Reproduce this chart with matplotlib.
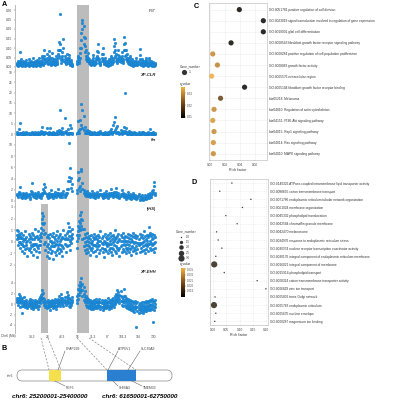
import numpy as np
import matplotlib
matplotlib.use("Agg")
import matplotlib.pyplot as plt
from matplotlib.colors import LinearSegmentedColormap, Normalize
from matplotlib.cm import ScalarMappable
from matplotlib.patches import FancyBboxPatch, Rectangle

plt.rcParams['font.family'] = ['Liberation Sans', 'DejaVu Sans']

W, H = 395, 400

# ---------------- panel A data (1 Mb windows on chr6) ----------------
win_mb = list(range(0, 53)) + list(range(57, 132))

fst_a = [0.02, 0.03, 0.015, 0.08, 0.04, 0.02, 0.03, 0.01, 0.025, 0.035,
         0.02, 0.04, 0.015, 0.03, 0.02, 0.045, 0.01, 0.03, 0.02, 0.035,
         0.015, 0.05, 0.025, 0.03, 0.06, 0.02, 0.09, 0.04, 0.07, 0.03,
         0.085, 0.05, 0.02, 0.075, 0.03, 0.04, 0.02, 0.06, 0.03, 0.09,
         0.13, 0.28, 0.05, 0.08, 0.15, 0.06, 0.03, 0.07, 0.04, 0.065,
         0.02, 0.035, 0.015,
         0.03, 0.06, 0.04, 0.1, 0.18, 0.25, 0.215, 0.155, 0.09, 0.06,
         0.075, 0.04, 0.03, 0.02, 0.035, 0.065, 0.02, 0.03, 0.05, 0.085,
         0.12, 0.04, 0.02, 0.07, 0.1, 0.03, 0.045, 0.02, 0.03, 0.015,
         0.04, 0.025, 0.06, 0.03, 0.05, 0.147, 0.126, 0.07, 0.04, 0.09,
         0.06, 0.05, 0.08, 0.04, 0.158, 0.126, 0.09, 0.07, 0.05, 0.03,
         0.06, 0.02, 0.04, 0.015, 0.03, 0.02, 0.045, 0.025, 0.03, 0.095,
         0.02, 0.04, 0.015, 0.03, 0.02, 0.05, 0.025, 0.015, 0.047, 0.02,
         0.03, 0.01, 0.025, 0.015, 0.02]
fst_b = [0.01, 0.005, 0.02, 0.01, 0.015, 0.005, 0.01, 0.02, 0.005, 0.01,
         0.015, 0.005, 0.01, 0.02, 0.01, 0.005, 0.015, 0.01, 0.005, 0.02,
         0.01, 0.02, 0.005, 0.015, 0.03, 0.01, 0.04, 0.02, 0.03, 0.015,
         0.04, 0.02, 0.01, 0.03, 0.015, 0.02, 0.01, 0.025, 0.015, 0.05,
         0.06, 0.09, 0.02, 0.04, 0.03, 0.025, 0.015, 0.035, 0.02, 0.03,
         0.01, 0.015, 0.005,
         0.015, 0.03, 0.02, 0.05, 0.1, 0.23, 0.12, 0.08, 0.04, 0.03,
         0.03, 0.02, 0.015, 0.01, 0.02, 0.03, 0.01, 0.015, 0.02, 0.04,
         0.05, 0.02, 0.01, 0.03, 0.04, 0.015, 0.02, 0.01, 0.015, 0.005,
         0.02, 0.01, 0.03, 0.015, 0.025, 0.08, 0.06, 0.03, 0.02, 0.04,
         0.03, 0.025, 0.04, 0.02, 0.09, 0.06, 0.04, 0.03, 0.02, 0.015,
         0.03, 0.01, 0.02, 0.005, 0.015, 0.01, 0.02, 0.01, 0.015, 0.04,
         0.01, 0.02, 0.005, 0.015, 0.01, 0.025, 0.01, 0.005, 0.02, 0.01,
         0.015, 0.005, 0.01, 0.005, 0.01]
fst_c = [0.015, 0.02, 0.01, 0.03, 0.025, 0.01, 0.02, 0.015, 0.015, 0.02,
         0.01, 0.025, 0.02, 0.01, 0.015, 0.025, 0.02, 0.02, 0.01, 0.025,
         0.02, 0.03, 0.015, 0.02, 0.045, 0.015, 0.06, 0.03, 0.05, 0.02,
         0.06, 0.035, 0.015, 0.05, 0.02, 0.03, 0.015, 0.04, 0.02, 0.07,
         0.09, 0.12, 0.035, 0.06, 0.1, 0.04, 0.02, 0.05, 0.03, 0.045,
         0.015, 0.025, 0.01,
         0.02, 0.045, 0.03, 0.075, 0.14, 0.2, 0.16, 0.11, 0.06, 0.045,
         0.05, 0.03, 0.02, 0.015, 0.025, 0.045, 0.015, 0.02, 0.035, 0.06,
         0.08, 0.03, 0.015, 0.05, 0.07, 0.02, 0.03, 0.015, 0.02, 0.01,
         0.03, 0.015, 0.045, 0.02, 0.035, 0.11, 0.09, 0.05, 0.03, 0.065,
         0.045, 0.035, 0.06, 0.03, 0.12, 0.09, 0.065, 0.05, 0.035, 0.02,
         0.045, 0.015, 0.03, 0.01, 0.02, 0.015, 0.03, 0.015, 0.02, 0.065,
         0.015, 0.03, 0.01, 0.02, 0.015, 0.035, 0.02, 0.01, 0.035, 0.015,
         0.02, 0.008, 0.018, 0.01, 0.015]

xpclr_a = [0.8, 0.4, 2.4, 5.3, 0.6, 0.3, 0.9, 0.2, 0.5, 1.1,
           0.3, 0.7, 0.2, 0.6, 1.2, 0.4, 0.3, 0.8, 0.2, 0.5,
           1.0, 0.3, 0.6, 1.4, 3.4, 0.8, 0.4, 1.2, 2.9, 0.5,
           0.9, 2.9, 0.6, 0.3, 1.1, 0.4, 0.7, 0.2, 1.5, 0.6,
           2.0, 11.6, 1.3, 3.0, 0.8, 7.8, 1.5, 0.4, 2.2, 0.7,
           4.4, 3.0, 0.5,
           0.6, 6.3, 1.8, 6.8, 14.5, 11.6, 8.7, 3.5, 1.2, 2.0,
           0.8, 1.5, 0.4, 0.9, 0.3, 0.7, 1.2, 0.4, 0.6, 0.2,
           0.9, 0.5, 1.3, 0.3, 0.7, 0.4, 1.0, 0.2, 0.6, 0.8,
           0.3, 1.5, 2.5, 1.0, 4.4, 5.8, 8.2, 3.0, 4.0, 1.2,
           0.6, 2.0, 0.8, 1.5, 3.5, 20.0, 2.8, 1.0, 0.5, 1.3,
           0.4, 0.9, 0.3, 0.7, 1.1, 0.4, 0.6, 0.2, 0.9, 0.5,
           0.3, 0.8, 1.2, 0.4, 0.6, 0.2, 0.5, 0.9, 0.3, 2.4,
           0.6, 0.4, 0.8, 0.3, 0.5]
xpclr_b = [0.1, 0.0, 0.2, 0.5, 0.1, 0.0, 0.2, 0.1, 0.0, 0.3,
           0.1, 0.2, 0.0, 0.1, 0.3, 0.0, 0.1, 0.2, 0.0, 0.1,
           0.2, 0.0, 0.1, 0.3, 0.6, 0.2, 0.1, 0.3, 0.5, 0.0,
           0.2, 0.4, 0.1, 0.0, 0.2, 0.1, 0.2, 0.0, 0.3, 0.1,
           0.5, 0.8, 0.2, 0.6, 0.1, 0.9, 0.3, 0.0, 0.4, 0.1,
           0.7, 0.5, 0.1,
           0.1, 1.2, 0.4, 2.2, 4.5, 3.0, 1.8, 0.6, 0.2, 0.4,
           0.1, 0.3, 0.0, 0.2, 0.1, 0.1, 0.3, 0.0, 0.1, 0.0,
           0.2, 0.1, 0.3, 0.0, 0.1, 0.0, 0.2, 0.0, 0.1, 0.2,
           0.0, 0.3, 0.5, 0.2, 0.8, 1.2, 2.0, 0.6, 0.9, 0.3,
           0.1, 0.4, 0.2, 0.3, 0.7, 1.5, 0.5, 0.2, 0.1, 0.3,
           0.1, 0.2, 0.0, 0.1, 0.3, 0.1, 0.1, 0.0, 0.2, 0.1,
           0.0, 0.2, 0.3, 0.1, 0.1, 0.0, 0.1, 0.2, 0.0, 0.5,
           0.1, 0.0, 0.2, 0.1, 0.1]

pi_a = [1.3, 1.0, 1.6, 2.5, 1.1, 0.8, 1.4, 1.2, 0.9, 1.5,
        1.1, 1.3, 0.7, 1.8, 3.2, 1.2, 1.0, 1.4, 0.8, 1.2,
        1.6, 1.0, 1.3, 0.9, 1.5, 2.2, 3.0, 2.5, 1.2, 0.8,
        1.4, 1.1, 2.0, 1.3, 0.9, 1.2, 1.6, 1.0, 1.4, 2.1,
        1.3, 1.0, 1.5, 1.2, 1.8, 1.1, 1.4, 2.2, 3.6, 10.3,
        5.9, 4.1, 3.0,
        2.0, 5.2, 4.1, 2.6, 5.4, 3.2, 2.0, 1.6, 1.3, 1.8,
        1.2, 1.5, 1.0, 1.3, 1.7, 1.1, 1.4, 0.9, 1.2, 1.6,
        1.0, 1.3, 2.0, 1.2, 0.8, 1.4, 1.1, 1.7, 1.3, 0.9,
        1.5, 1.2, 2.2, 1.4, 1.0, 1.6, 1.3, 2.4, 1.1, 1.5,
        0.8, 1.2, 1.9, 1.4, 1.0, 1.3, 0.7, 1.1, 1.6, 0.9,
        1.2, 0.6, 1.0, 1.4, 0.8, 1.1, 0.5, 0.9, 1.3, 0.4,
        0.7, 1.0, 0.3, 0.6, 1.1, 0.5, 0.9, 1.2, 0.8, 1.4,
        1.0, 1.7, 2.0, 3.4, 1.5]
pi_b = [1.0, 0.7, 1.2, 1.5, 0.8, 0.5, 1.0, 0.9, 0.6, 1.1,
        0.8, 1.0, 0.4, 1.2, 1.6, 0.9, 0.7, 1.0, 0.5, 0.9,
        1.1, 0.7, 0.9, 0.6, 1.0, 1.4, 1.8, 1.5, 0.9, 0.5,
        1.0, 0.8, 1.3, 0.9, 0.6, 0.9, 1.1, 0.7, 1.0, 1.4,
        0.9, 0.7, 1.1, 0.8, 1.2, 0.8, 1.0, 1.5, 2.2, 4.2,
        3.5, 2.4, 1.8,
        1.4, 3.7, 2.4, 1.8, 5.7, 2.2, 1.4, 1.1, 0.9, 1.2,
        0.9, 1.1, 0.7, 1.0, 1.2, 0.8, 1.0, 0.6, 0.9, 1.1,
        0.7, 1.0, 1.3, 0.9, 0.5, 1.0, 0.8, 1.2, 0.9, 0.6,
        1.1, 0.9, 1.5, 1.0, 0.7, 1.2, 0.9, 1.6, 0.8, 1.1,
        0.5, 0.9, 1.3, 1.0, 0.7, 0.9, 0.4, 0.8, 1.1, 0.6,
        0.9, 0.4, 0.7, 1.0, 0.5, 0.8, 0.3, 0.6, 0.9, 0.2,
        0.4, 0.7, 0.2, 0.4, 0.8, 0.3, 0.6, 0.9, 0.5, 1.0,
        0.7, 1.2, 1.4, 2.7, 1.1]

ihs_a = [1.0, 0.9, 0.7, 0.5, 0.8, 0.3, 0.6, 0.2, 0.9, 0.4,
         0.1, 0.7, 0.5, 0.3, 0.8, 0.6, 0.2, 1.1, 0.4, 0.5,
         0.9, 0.3, 0.6, 1.2, 2.5, 2.2, 1.6, 0.8, 0.4, 0.6,
         0.3, 0.7, 0.1, 0.5, 0.8, 0.4, 0.2, 0.6, 0.9, 0.3,
         0.5, 0.7, 0.2, 0.4, 1.0, 0.6, 0.3, 0.8, 1.6, 1.3,
         0.9, 0.5, 1.1,
         0.6, 1.4, 1.8, 2.3, 2.6, 1.9, 1.1, 0.7, 0.4, 0.8,
         0.3, 0.5, 0.2, 0.6, 0.1, 0.4, 0.7, 0.3, 0.5, 0.2,
         0.6, 0.4, 0.9, 0.3, 0.5, 0.1, 0.7, 0.4, 0.2, 0.6,
         0.3, 0.8, 0.5, 0.2, 0.6, 0.4, 1.0, 0.3, 0.5, 0.7,
         0.2, 0.6, 0.4, 0.8, 0.3, 0.5, 0.1, 0.4, 0.7, 0.3,
         0.6, 0.2, 0.5, 0.8, 0.4, 0.6, 0.3, 0.5, 0.2, 0.7,
         0.4, 0.6, 0.3, 0.9, 0.5, 0.2, 0.6, 0.4, 1.3, 0.8,
         0.5, 0.7, 0.3, 0.6, 0.4]
ihs_b = [0.2, -0.3, 0.0, -0.5, -0.2, -0.8, -0.4, -1.0, -0.6, -0.3,
         -1.2, -0.7, -0.5, -0.9, -0.4, -1.1, -0.6, -0.2, -0.8, -1.3,
         -0.5, -0.9, -0.3, 0.4, 1.6, 1.0, -0.2, -0.7, -1.2, -0.9,
         -1.4, -0.6, -1.0, -0.8, -1.5, -0.4, -0.9, -1.1, -0.7, -0.3,
         -1.0, -0.6, -0.8, -1.2, -0.5, -0.2, -0.9, -0.4, 0.2, -0.3,
         -0.7, -0.1, 0.3,
         -0.5, 0.3, 0.6, 1.0, 1.4, 0.2, -0.4, -0.7, -1.0, -0.6,
         -0.9, -0.4, -1.1, -0.7, -0.5, -0.9, -0.3, -0.8, -1.2, -0.6,
         -0.4, -1.0, -0.7, -0.5, -0.9, -1.3, -0.6, -0.8, -0.4, -1.0,
         -0.7, -0.5, -0.9, -1.1, -0.6, -0.3, -0.8, -1.0, -0.5, -0.7,
         -1.2, -0.4, -0.9, -0.6, -0.8, -0.3, -1.0, -0.7, -0.5, -0.9,
         -0.6, -1.1, -0.4, -0.8, -0.5, -0.7, -1.0, -0.6, -0.3, -0.9,
         -0.5, -0.8, -0.4, -0.7, -1.0, -0.6, -0.4, -0.8, -0.2, -0.5,
         -0.7, -0.3, -0.6, -0.9, -0.5]
ihs_c = [0.6, 0.4, 0.3, 0.0, 0.3, -0.2, 0.1, -0.4, 0.2, 0.0,
         -0.5, 0.2, 0.0, -0.3, 0.2, -0.2, -0.3, 0.4, -0.2, -0.4,
         0.2, -0.3, 0.1, 0.8, 2.0, 1.5, 0.7, 0.0, -0.4, -0.2,
         -0.5, 0.1, -0.4, -0.1, -0.4, 0.0, -0.3, -0.2, 0.1, -0.5,
         -0.2, 0.1, -0.3, -0.4, 0.3, 0.2, -0.3, 0.2, 0.9, 0.5,
         0.1, 0.2, 0.7,
         0.1, 0.9, 1.2, 1.6, 2.0, 1.1, 0.3, 0.0, -0.3, 0.1,
         -0.3, 0.0, -0.5, -0.1, -0.2, -0.3, 0.2, -0.3, -0.4, -0.1,
         0.1, -0.3, 0.1, -0.1, -0.2, -0.6, 0.0, -0.2, -0.1, -0.3,
         -0.2, 0.1, -0.2, -0.5, 0.0, 0.1, 0.2, -0.4, 0.0, 0.1,
         -0.5, 0.1, -0.3, 0.1, -0.2, 0.1, -0.5, -0.2, 0.1, -0.3,
         0.0, -0.5, 0.1, 0.0, -0.1, 0.0, -0.4, -0.1, -0.1, -0.2,
         -0.1, -0.1, 0.0, 0.1, -0.3, -0.2, 0.1, -0.2, 0.6, 0.1,
         -0.1, 0.2, -0.2, -0.1, 0.0]

xpehh_a = [1.2, 0.8, 2.0, 1.5, 0.9, 1.1, 0.6, 1.3, 0.4, 0.8,
           0.2, 0.5, 0.9, 0.3, 0.7, 0.1, 0.4, 0.8, 0.2, 0.6,
           0.3, 0.9, 1.4, 1.8, 2.6, 2.1, 1.0, 0.5, 0.3, 0.7,
           0.2, 0.6, 0.4, 0.8, 0.3, 0.5, 0.9, 0.4, 0.7, 1.0,
           1.5, 0.6, 1.9, 1.2, 0.8, 1.4, 0.6, 2.3, 1.7, 1.1,
           0.9, 0.5, 1.3,
           1.5, 2.8, 3.6, 4.1, 4.9, 3.9, 3.2, 2.4, 1.6, 1.2,
           0.9, 0.5, 0.8, 0.3, 0.6, 0.2, 0.7, 0.4, 0.9, 0.3,
           0.6, 1.0, 0.4, 0.7, 0.2, 0.5, 0.8, 0.3, 0.6, 1.1,
           0.4, 0.7, 0.5, 0.9, 1.2, 0.6, 1.5, 2.0, 2.6, 2.2,
           1.8, 2.4, 1.4, 1.0, 2.8, 1.6, 1.2, 0.7, 0.9, 0.5,
           0.8, 0.3, 0.6, 0.4, 0.2, 0.5, 0.1, 0.3, -0.2, 0.2,
           0.0, 0.4, -0.1, 0.3, 0.1, 0.5, 0.2, 0.6, 0.4, 0.8,
           0.5, 0.9, 0.6, 0.3, 0.7]
xpehh_b = [0.3, -0.2, 0.4, -0.5, 0.1, -1.7, -0.3, 0.0, -0.6, -0.2,
           -0.8, -0.4, -0.1, -0.7, -0.3, -0.9, -0.5, -0.2, -0.6, -0.4,
           -1.0, -0.3, 0.2, 0.8, 1.2, 0.4, -0.1, -0.5, -0.8, -0.3,
           -0.6, -1.1, -0.4, -0.2, -0.7, -0.5, -0.3, -0.9, -0.4, -0.1,
           0.2, -0.3, 0.5, 0.0, -0.4, 0.3, -0.2, 0.6, 0.1, -0.3,
           -0.5, -0.2, 0.4,
           0.2, 1.0, 1.8, 2.2, 2.6, 1.5, 0.8, 0.3, -0.2, -0.5,
           -0.3, -0.8, -0.4, -0.9, -0.6, -1.0, -0.5, -0.7, -0.3, -0.8,
           -0.6, -0.4, -0.9, -0.5, -1.1, -0.7, -0.4, -0.8, -0.6, -0.3,
           -0.9, -0.5, -0.7, -0.4, -0.2, -0.6, 0.0, 0.3, 0.8, 0.5,
           0.2, 0.6, -0.1, -0.4, 0.4, -0.2, -0.5, -0.8, -0.6, -1.0,
           -0.7, -1.2, -0.9, -1.3, -1.5, -1.0, -4.3, -1.4, -1.8, -1.2,
           -1.6, -1.1, -1.7, -1.3, -1.0, -1.4, -0.9, -1.2, -0.8, -1.1,
           -0.7, -0.9, -3.5, -1.2, -0.6]
xpehh_c = [0.8, 0.3, 1.2, 0.5, 0.5, -0.4, 0.2, 0.6, -0.1, 0.3,
           -0.3, 0.0, 0.4, -0.2, 0.2, -0.4, -0.1, 0.3, -0.2, 0.1,
           -0.4, 0.3, 0.8, 1.3, 1.9, 1.2, 0.4, 0.0, -0.3, 0.2,
           -0.2, -0.3, 0.0, 0.3, -0.2, 0.0, 0.3, -0.3, 0.1, 0.4,
           0.8, 0.1, 1.2, 0.6, 0.2, 0.8, 0.2, 1.4, 0.9, 0.4,
           0.2, 0.1, 0.8,
           0.8, 1.9, 2.7, 3.2, 3.7, 2.7, 2.0, 1.3, 0.7, 0.3,
           0.3, -0.2, 0.2, -0.3, 0.0, -0.4, 0.1, -0.2, 0.3, -0.3,
           0.0, 0.3, -0.3, 0.1, -0.5, -0.1, 0.2, -0.3, 0.0, 0.4,
           -0.3, 0.1, -0.1, 0.2, 0.5, 0.0, 0.8, 1.2, 1.7, 1.4,
           1.0, 1.5, 0.6, 0.3, 1.6, 0.7, 0.3, -0.1, 0.2, -0.3,
           0.0, -0.5, -0.2, -0.5, -0.7, -0.3, -0.6, -0.5, -1.0, -0.5,
           -0.8, -0.4, -0.9, -0.5, -0.4, -0.5, -0.3, -0.3, -0.2, -0.2,
           -0.1, 0.0, -0.4, -0.5, 0.0]

# selected regions (Mb)
region_wide = (56.8, 68.1)
region_ihs = (22.8, 29.4)
x_ticks = [14.3, 28.6, 42.9, 57.2, 71.5, 85.8, 100.1, 114.4, 128.7]
x_ticklabels = ['14.3', '28', '42.3', '56', '71.3', '87', '101.3', '116', '130']

# ---------------- panel C data ----------------
c_terms = ['GO:0051781 positive regulation of cell division',
           'GO:0023019 signal transduction involved in regulation of gene expression',
           'GO:0010001 glial cell differentiation',
           'GO:0008543 fibroblast growth factor receptor signaling pathway',
           'GO:0008284 positive regulation of cell population proliferation',
           'GO:0008083 growth factor activity',
           'GO:0005576 extracellular region',
           'GO:0005104 fibroblast growth factor receptor binding',
           'bta05218: Melanoma',
           'bta04810: Regulation of actin cytoskeleton',
           'bta04151: PI3K-Akt signaling pathway',
           'bta04015: Rap1 signaling pathway',
           'bta04014: Ras signaling pathway',
           'bta04010: MAPK signaling pathway']
c_rich = [0.039, 0.071, 0.071, 0.028, 0.0036, 0.0098, 0.0022, 0.046, 0.014,
          0.0053, 0.0036, 0.0053, 0.0044, 0.0044]
c_q = [0.0100, 0.0100, 0.0100, 0.0102, 0.0300, 0.0290, 0.0345, 0.0100, 0.0200,
       0.0300, 0.0320, 0.0300, 0.0310, 0.0300]
c_genes = [1] * 14

# ---------------- panel D data ----------------
d_terms = ['GO:0140326 ATPase-coupled intramembrane lipid transporter activity',
           'GO:0098655 cation transmembrane transport',
           'GO:0071786 endoplasmic reticulum tubular network organization',
           'GO:0061024 membrane organization',
           'GO:0045332 phospholipid translocation',
           'GO:0042584 chromaffin granule membrane',
           'GO:0042470 melanosome',
           'GO:0034976 response to endoplasmic reticulum stress',
           'GO:0030374 nuclear receptor transcription coactivator activity',
           'GO:0030176 integral component of endoplasmic reticulum membrane',
           'GO:0016021 integral component of membrane',
           'GO:0015914 phospholipid transport',
           'GO:0008324 cation transmembrane transporter activity',
           'GO:0006829 zinc ion transport',
           'GO:0005802 trans-Golgi network',
           'GO:0005783 endoplasmic reticulum',
           'GO:0005635 nuclear envelope',
           'GO:0000287 magnesium ion binding']
d_rich = [0.071, 0.025, 0.143, 0.111, 0.048, 0.091, 0.013, 0.019, 0.033, 0.010,
          0.004, 0.042, 0.167, 0.200, 0.007, 0.003, 0.010, 0.006]
d_q = [0.011, 0.011, 0.011, 0.011, 0.011, 0.011, 0.011, 0.011, 0.011, 0.011,
       0.013, 0.011, 0.011, 0.011, 0.011, 0.013, 0.011, 0.011]
d_genes = [1, 1, 1, 1, 1, 1, 1, 1, 1, 1, 3, 1, 1, 1, 1, 3, 1, 1]

pt_blue = '#1c8ddb'
band_gray = '#bcbcbc'
q_cmap = LinearSegmentedColormap.from_list('q', ['#000000', '#7b4c14', '#f7b23e'])


def px_box(x0, y0, x1, y1):
    return [x0 / W, 1 - y1 / H, (x1 - x0) / W, (y1 - y0) / H]


def ylim_from(v_hi, p_hi, v_lo, p_lo, top, bot):
    k = (v_hi - v_lo) / (p_lo - p_hi)
    return (v_lo - (bot - p_lo) * k, v_hi + (p_hi - top) * k)


fig = plt.figure(figsize=(W / 100, H / 100), dpi=100)

# ---------------- panel A ----------------
tracks = [
    ([fst_b, fst_c, fst_a], r'$\mathbf{\it{F}_{ST}}$', 5, 70, (0.30, 10, 0.0, 67),
     [0, 0.05, 0.10, 0.15, 0.20, 0.25, 0.30], '{:.2f}', False),
    ([xpclr_b, xpclr_a], 'XP-CLR', 70, 135, (30, 72, 0, 134),
     [0, 5, 10, 15, 20, 25, 30], '{:g}', False),
    ([pi_b, pi_a], 'θπ', 135, 204, (10, 145, 0, 201),
     [0, 2, 4, 6, 8, 10], '{:g}', False),
    ([ihs_b, ihs_c, ihs_a], '|iHS|', 204, 267, (3, 207, -2, 265),
     [-2, -1, 0, 1, 2, 3], '{:g}', True),
    ([xpehh_b, xpehh_c, xpehh_a], 'XP-EHH', 267, 333, (4, 283, 0, 304),
     [-4, -2, 0, 2, 4], '{:g}', True),
]
for i, (series, lab, top, bot, anch, yt, fmt, both) in enumerate(tracks):
    ax = fig.add_axes(px_box(15, top, 158, bot))
    ax.set_xlim(-1.8, 133.4)
    ax.set_ylim(*ylim_from(*anch, top, bot))
    ax.axvspan(*region_wide, color=band_gray, lw=0, zorder=0)
    if both:
        ax.axvspan(*region_ihs, color=band_gray, lw=0, zorder=0)
    for vals in series:
        n = min(len(win_mb), len(vals))
        ax.scatter(win_mb[:n], vals[:n], s=4.2, color=pt_blue, ec='#1670b8',
                   lw=0.15, zorder=2)
    ax.set_yticks(yt)
    ax.set_yticklabels([fmt.format(v) for v in yt])
    ax.tick_params(axis='y', labelsize=2.3, length=1, width=0.3, pad=0.8,
                   colors='#444444')
    for s in ['top', 'right', 'bottom']:
        ax.spines[s].set_visible(False)
    ax.spines['left'].set_color('#b0b0b0')
    ax.spines['left'].set_linewidth(0.6)
    ax.patch.set_alpha(0)
    ax.text(0.985, 0.96, lab, transform=ax.transAxes, ha='right', va='top',
            fontsize=3.0, fontweight='bold', fontstyle='italic', color='#222222')
    if i == len(tracks) - 1:
        ax.set_xticks(x_ticks)
        ax.set_xticklabels(x_ticklabels)
        ax.tick_params(axis='x', labelsize=2.3, length=0, pad=1.2,
                       colors='#444444')
    else:
        ax.set_xticks([])

# ---------------- panel C ----------------
axc = fig.add_axes(px_box(209.3, 3.3, 266.7, 160))
yc = np.arange(1, len(c_terms) + 1)
norm_c = Normalize(0.009, 0.0355)
axc.scatter(c_rich, yc, s=[14 * g for g in c_genes], c=c_q, cmap=q_cmap,
            norm=norm_c, lw=0, alpha=0.85, zorder=3)
axc.set_ylim(14.57, 0.43)
axc.set_xlim(-0.001, 0.0755)
axc.set_yticks(yc)
axc.set_yticklabels(c_terms)
axc.yaxis.tick_right()
axc.set_xticks([0, 0.02, 0.04, 0.06])
axc.set_xticklabels(['0.00', '0.02', '0.04', '0.06'])
axc.tick_params(labelsize=2.3, length=1, width=0.3, pad=1, colors='#444444')
axc.tick_params(axis='y', length=0, pad=1.5, labelcolor='#333333')
axc.grid(color='#eeeeee', lw=0.4)
axc.set_axisbelow(True)
for s in axc.spines.values():
    s.set_color('#c4c4c4')
    s.set_linewidth(0.5)
axc.set_xlabel('Rich factor', fontsize=2.6, labelpad=1, color='#333333')

# ---------------- panel D ----------------
axd = fig.add_axes(px_box(210, 179, 268, 325))
yd = np.arange(1, len(d_terms) + 1)
norm_d = Normalize(0.0095, 0.036)
axd.scatter(d_rich, yd, s=[1.0 + (g - 1) * 9.5 for g in d_genes], c=d_q,
            cmap=q_cmap, norm=norm_d, lw=0, alpha=0.8, zorder=3)
axd.set_ylim(18.45, 0.5)
axd.set_xlim(-0.012, 0.208)
axd.set_yticks(yd)
axd.set_yticklabels(d_terms)
axd.yaxis.tick_right()
axd.set_xticks([0, 0.05, 0.10, 0.15, 0.20])
axd.set_xticklabels(['0.00', '0.05', '0.10', '0.15', '0.20'])
axd.tick_params(labelsize=2.3, length=1, width=0.3, pad=1, colors='#444444')
axd.tick_params(axis='y', length=0, pad=1.5, labelcolor='#333333')
axd.grid(color='#e6e6e6', lw=0.4, ls=(0, (2, 2)))
axd.set_axisbelow(True)
for s in axd.spines.values():
    s.set_color('#c4c4c4')
    s.set_linewidth(0.5)
axd.set_xlabel('Rich factor', fontsize=2.6, labelpad=1, color='#333333')

# colour bars
cax_c = fig.add_axes(px_box(181, 87, 185, 118))
cb = fig.colorbar(ScalarMappable(norm=norm_c, cmap=q_cmap), cax=cax_c)
cb.set_ticks([0.01, 0.02, 0.03])
cb.outline.set_visible(False)
cb.ax.tick_params(labelsize=2.2, length=0.8, width=0.3, pad=0.8, colors='#444444')

cax_d = fig.add_axes(px_box(181, 268, 185, 297))
cb2 = fig.colorbar(ScalarMappable(norm=norm_d, cmap=q_cmap), cax=cax_d)
cb2.set_ticks([0.015, 0.020, 0.025, 0.030, 0.035])
cb2.set_ticklabels(['0.015', '0.020', '0.025', '0.030', '0.035'])
cb2.outline.set_visible(False)
cb2.ax.tick_params(labelsize=2.0, length=0.8, width=0.3, pad=0.8, colors='#444444')

# ---------------- overlay: letters, legends, panel B ----------------
ov = fig.add_axes([0, 0, 1, 1])
ov.set_xlim(0, W)
ov.set_ylim(H, 0)
ov.axis('off')
ov.patch.set_alpha(0)

for letter, x, y in [('A', 2, 5), ('B', 2, 349), ('C', 194, 6), ('D', 192, 183)]:
    ov.text(x, y, letter, fontsize=5.2, fontweight='bold', va='center', ha='left')

# legend C
ov.text(180, 66, 'Gene_number', fontsize=2.3, va='center', color='#333333')
ov.scatter([184], [72], s=14, color='#333333', lw=0)
ov.text(189, 72, '1', fontsize=2.3, va='center', color='#333333')
ov.text(180, 84, 'q_value', fontsize=2.3, va='center', color='#333333')

# legend D
ov.text(176, 231, 'Gene_number', fontsize=2.3, va='center', color='#333333')
for j, g in enumerate([1.0, 1.5, 2.0, 2.5, 3.0]):
    yy = 237 + j * 5.2
    ov.scatter([181], [yy], s=1.0 + (g - 1) * 9.5, color='#333333', lw=0)
    ov.text(186, yy, f'{g:.1f}', fontsize=2.1, va='center', color='#333333')
ov.text(180, 264, 'q_value', fontsize=2.3, va='center', color='#333333')

# x-axis leading label of panel A
ov.text(1, 335.5, 'Chr6 (Mb)', fontsize=2.3, va='center', color='#444444')

# panel B: zoom lines from the selected regions to chr6 schematic
for (x0, x1) in [(41, 49), (48, 61), (77, 107), (89, 136)]:
    ov.plot([x0, x1], [338, 370], color='#888888', lw=0.5, ls=(0, (3, 2)))
chrom = FancyBboxPatch((17, 370), 155, 11, boxstyle='round,pad=0,rounding_size=5.5',
                       fc='white', ec='#9a9a9a', lw=0.6)
ov.add_patch(chrom)
ov.add_patch(Rectangle((49, 370.3), 12, 10.4, fc='#f4e04d', ec='none'))
ov.add_patch(Rectangle((107, 370.3), 29, 10.4, fc='#2a7fd0', ec='none'))
ov.text(7, 376, 'chr6', fontsize=2.3, va='center', color='#444444')

genes_up = [('CFAP299', 58, 65), ('ATP6V1', 108, 118), ('SLC30A9', 128, 140)]
genes_dn = [('FGF5', 55, 65), ('SHISA3', 113, 118), ('TMEM33', 132, 142)]
for name, xs, xt in genes_up:
    ov.plot([xs, xt], [370, 351], color='#666666', lw=0.4)
    ov.text(xt + 0.5, 349.5, name, fontsize=2.4, va='center', color='#444444')
for name, xs, xt in genes_dn:
    ov.plot([xs, xt], [381, 386], color='#666666', lw=0.4)
    ov.text(xt + 0.5, 388, name, fontsize=2.4, va='center', color='#444444')

ov.text(12, 396.5, 'chr6: 25200001-25400000', fontsize=4.6, fontweight='bold',
        fontstyle='italic', va='center')
ov.text(102, 396.5, 'chr6: 61650001-62750000', fontsize=4.6, fontweight='bold',
        fontstyle='italic', va='center')

fig.savefig('out.png', dpi=100)
